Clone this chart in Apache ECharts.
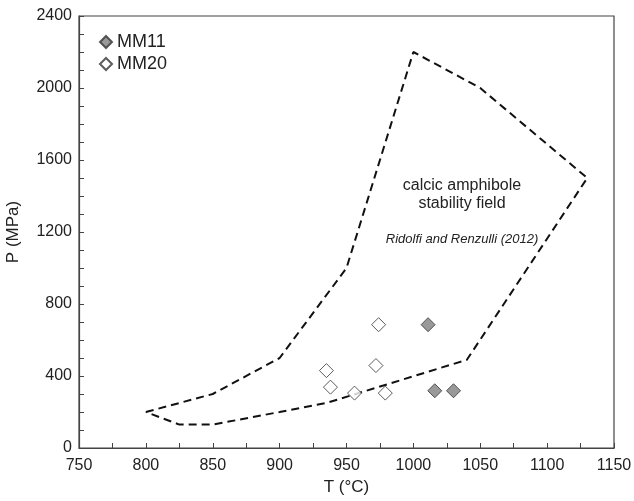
<!DOCTYPE html>
<html><head><meta charset="utf-8">
<script src="https://cdn.jsdelivr.net/npm/echarts@6/dist/echarts.min.js"></script>
<style>html,body{margin:0;padding:0;background:#fff}#c{width:634px;height:501px}</style>
</head><body><div id="c"></div>
<script>
const mm11T = [1011, 1016, 1030];
const mm11P = [685, 318, 318];
const mm20T = [974, 935, 972, 938, 956, 979];
const mm20P = [685, 430, 458, 338, 305, 305];
const fieldT = [800, 850, 900, 950, 1000, 1050, 1130, 1040, 935, 900, 850, 825, 800];
const fieldP = [200, 300, 500, 1000, 2200, 2000, 1500, 490, 250, 200, 130, 130, 200];

const zip = (a, b) => a.map((v, i) => [v, b[i]]);
const font = 'Liberation Sans, Arial, sans-serif';
const ink = '#222';
const chart = echarts.init(document.getElementById('c'));
chart.setOption({
  animation: false,
  backgroundColor: '#fff',
  textStyle: { fontFamily: font },
  grid: { left: 79, right: 20, top: 16, bottom: 53, show: true, borderColor: '#444', borderWidth: 1.2, outerBoundsMode: 'none', containLabel: false },
  legend: {
    left: 94, top: 28, orient: 'vertical', itemGap: 4,
    itemWidth: 12, itemHeight: 12,
    textStyle: { fontSize: 18, color: ink, fontFamily: font, padding: [0, 0, 0, 0] },
    data: ['MM11', 'MM20']
  },
  xAxis: {
    type: 'value', min: 750, max: 1150, interval: 50,
    name: 'T (°C)', nameLocation: 'middle', nameGap: 24,
    nameTextStyle: { fontSize: 17, color: ink },
    axisLine: { lineStyle: { color: '#444', width: 1.2 } },
    axisTick: { inside: true, length: 5, lineStyle: { color: '#444' } },
    minorTick: { show: true, splitNumber: 2, length: 5, lineStyle: { color: '#444' } },
    axisLabel: { fontSize: 16, color: ink, margin: 10, formatter: v => String(v) },
    splitLine: { show: false }
  },
  yAxis: {
    type: 'value', min: 0, max: 2400, interval: 400,
    name: 'P (MPa)', nameLocation: 'middle', nameGap: 57,
    nameTextStyle: { fontSize: 17, color: ink },
    axisLine: { show: true, lineStyle: { color: '#444', width: 1.2 } },
    axisTick: { show: true, inside: true, length: 5, lineStyle: { color: '#444' } },
    minorTick: { show: true, splitNumber: 4, length: 5, lineStyle: { color: '#444' } },
    axisLabel: { fontSize: 16, color: ink, margin: 7, formatter: v => String(v) },
    splitLine: { show: false }
  },
  graphic: [
    { type: 'text', x: 462, y: 186, style: { text: 'calcic amphibole', font: '16px ' + font, fill: ink, align: 'center', verticalAlign: 'middle' } },
    { type: 'text', x: 462, y: 204, style: { text: 'stability field', font: '16px ' + font, fill: ink, align: 'center', verticalAlign: 'middle' } },
    { type: 'text', x: 462, y: 239, style: { text: 'Ridolfi and Renzulli (2012)', font: 'italic 13px ' + font, fill: ink, align: 'center', verticalAlign: 'middle' } }
  ],
  series: [
    {
      type: 'line', name: 'field', data: zip(fieldT, fieldP), symbol: 'none',
      lineStyle: { color: '#111', width: 2, type: [8, 5] }, z: 1
    },
    {
      type: 'scatter', name: 'MM11', data: zip(mm11T, mm11P), symbol: 'diamond', symbolSize: 14,
      itemStyle: { color: '#808080', borderColor: '#333', borderWidth: 1 }, z: 3
    },
    {
      type: 'scatter', name: 'MM20', data: zip(mm20T, mm20P), symbol: 'diamond', symbolSize: 14,
      itemStyle: { color: '#fff', borderColor: '#333', borderWidth: 1 }, z: 3
    }
  ]
});
</script></body></html>
